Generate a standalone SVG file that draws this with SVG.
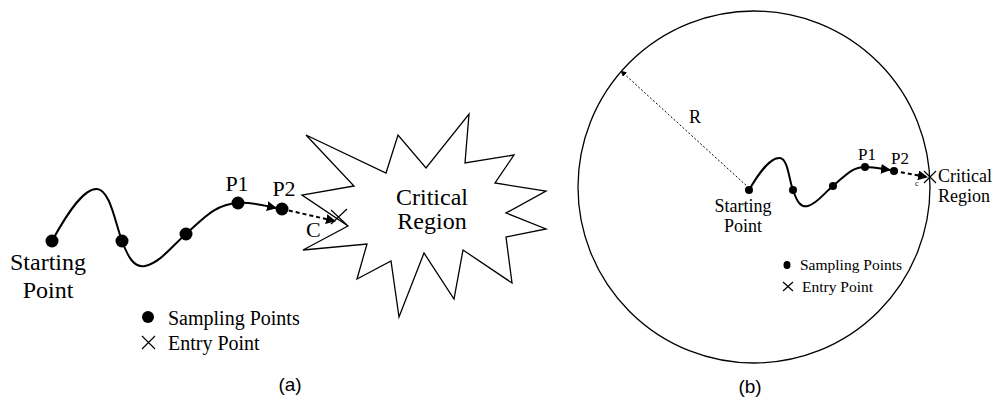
<svg xmlns="http://www.w3.org/2000/svg" width="993" height="409" viewBox="0 0 993 409">
<style>
.t{font-family:"Liberation Serif","Times New Roman",serif;fill:#000}
.s{font-family:"Liberation Sans",Arial,sans-serif;fill:#000}
.line{fill:none;stroke:#000;stroke-width:2}
.thin{fill:none;stroke:#000;stroke-width:1.3}
.dash{fill:none;stroke:#000;stroke-width:2;stroke-dasharray:4 3}
.dot{fill:none;stroke:#000;stroke-width:1;stroke-dasharray:2 2}
.x{fill:none;stroke:#000;stroke-width:1.2}
</style>
<defs>
<marker id="ah" viewBox="0 0 10 10" refX="9" refY="5" markerWidth="5" markerHeight="5" orient="auto" markerUnits="strokeWidth">
<path d="M0,0 L10,5 L0,10 z" fill="#000"/>
</marker>
<marker id="ahs" viewBox="0 0 10 10" refX="9" refY="5" markerWidth="6" markerHeight="6" orient="auto" markerUnits="strokeWidth">
<path d="M0,0 L10,5 L0,10 z" fill="#000"/>
</marker>
</defs>

<!-- (a) -->
<g id="a-critical-region">
<polygon class="thin" points="306,135 386,173 398,135 426,168 469,114 465,163 514,155 495,183 546,191 506,213 546,229 506,237 512,283 463,250 454,299 424,253 399,317 391,261 357,279 367,244 303,250 348,226 302,195 354,186"/>
<text class="t" x="432" y="205" font-size="24" text-anchor="middle">Critical</text>
<text class="t" x="432" y="229" font-size="24" text-anchor="middle">Region</text>
</g>
<g id="a-connectors">
<path class="line" d="M52,241 C68,212 84,188 97,189 C110,190 115,222 122,241 C128,257 134,268 145,266 C160,263 172,246 186,234 C203,219 215,204 238,203"/>
<path class="line" d="M238,203 C252,202 262,205 276,208" marker-end="url(#ah)"/>
<path class="dash" d="M282,209 L335,221" marker-end="url(#ah)"/>
</g>
<g id="a-start"><circle cx="52" cy="241" r="6.5"/>
<text class="t" x="48" y="270" font-size="24" text-anchor="middle">Starting</text>
<text class="t" x="48" y="298" font-size="24" text-anchor="middle">Point</text></g>
<g id="a-s2"><circle cx="122" cy="241" r="6.5"/></g>
<g id="a-s3"><circle cx="186" cy="234" r="6.5"/></g>
<g id="a-p1"><circle cx="238" cy="203" r="6.5"/><text class="t" x="237" y="191" font-size="22" text-anchor="middle">P1</text></g>
<g id="a-p2"><circle cx="282" cy="209" r="6.5"/><text class="t" x="284" y="196" font-size="22" text-anchor="middle">P2</text></g>
<g id="a-entry"><path class="x" d="M331,224 L347,209 M331,210 L347,225"/><text class="t" x="306" y="237" font-size="22">C</text></g>
<g id="a-legend">
<circle cx="148" cy="317" r="6"/>
<text class="t" x="168" y="325" font-size="20">Sampling Points</text>
<path class="x" d="M142,336 L155,349 M142,349 L155,336"/>
<text class="t" x="168" y="350" font-size="20">Entry Point</text>
</g>
<text class="s" x="290" y="391" font-size="19" text-anchor="middle">(a)</text>

<!-- (b) -->
<g id="b-circle"><circle class="thin" cx="754" cy="187" r="176" stroke-width="1.2"/></g>
<g id="b-connectors">
<path class="dot" d="M749,188 L621,71" marker-end="url(#ahs)"/>
<path class="line" d="M749,190 C759,173 770,157 780,158 C788,159 789,180 793,190 C797,202 801,208 808,206 C818,203 825,192 833,186 C845,176 852,167 865,167" stroke-width="1.6"/>
<path class="line" d="M865,167 C876,167 882,169 890,170" stroke-width="1.6" marker-end="url(#ah)"/>
<path class="dash" d="M894,171 L927,177" stroke-width="1.4" stroke-dasharray="3 2" marker-end="url(#ah)"/>
</g>
<text class="t" x="695" y="123" font-size="18" text-anchor="middle">R</text>
<g id="b-start"><circle cx="749" cy="190" r="4"/>
<text class="t" x="743" y="212" font-size="18" text-anchor="middle">Starting</text>
<text class="t" x="743" y="232" font-size="18" text-anchor="middle">Point</text></g>
<g id="b-s2"><circle cx="793" cy="190" r="4"/></g>
<g id="b-s3"><circle cx="833" cy="186" r="4"/></g>
<g id="b-p1"><circle cx="865" cy="167" r="4"/><text class="t" x="867" y="160" font-size="17" text-anchor="middle">P1</text></g>
<g id="b-p2"><circle cx="894" cy="171" r="4"/><text class="t" x="900" y="164" font-size="17" text-anchor="middle">P2</text></g>
<g id="b-entry"><path class="x" d="M924,183 L936,171 M924,171 L936,183"/>
<text class="t" x="915" y="186" font-size="8">c</text>
<text class="t" x="938" y="182" font-size="18">Critical</text>
<text class="t" x="938" y="202" font-size="18">Region</text></g>
<g id="b-legend">
<ellipse cx="787" cy="265" rx="3.5" ry="4"/>
<text class="t" x="800" y="270" font-size="15.5">Sampling Points</text>
<path class="x" d="M783,282 L793,291 M783,291 L793,282" stroke-width="1"/>
<text class="t" x="802" y="292" font-size="15.5">Entry Point</text>
</g>
<text class="s" x="750" y="393" font-size="19" text-anchor="middle">(b)</text>
</svg>
